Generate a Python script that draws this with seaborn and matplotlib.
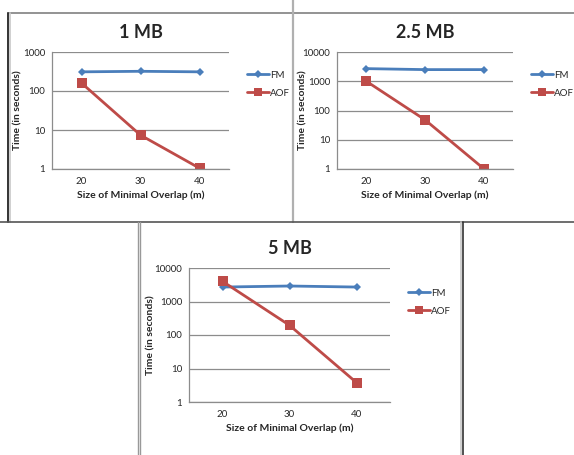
import pandas as pd
import matplotlib
matplotlib.use("Agg")
import matplotlib.pyplot as plt
import seaborn as sns
from matplotlib.lines import Line2D

overlap = [20, 30, 40]
titles = ["1 MB", "2.5 MB", "5 MB"]
fm_times = [[310, 320, 310], [2700, 2500, 2500], [2700, 2900, 2700]]
aof_times = [[160, 7.4, 1.05], [1000, 48, 1.03], [4000, 195, 3.8]]
y_ticks = [[1, 10, 100, 1000], [1, 10, 100, 1000, 10000], [1, 10, 100, 1000, 10000]]

rows = []
for i, t in enumerate(titles):
    for j, m in enumerate(overlap):
        rows.append({"panel": t, "m": m, "method": "FM", "time": fm_times[i][j]})
        rows.append({"panel": t, "m": m, "method": "AOF", "time": aof_times[i][j]})
df = pd.DataFrame(rows)

sns.set_style("white")
plt.rcParams["font.family"] = ["Lato", "DejaVu Sans"]

W, H = 574, 455
fig = plt.figure(figsize=(W / 100, H / 100), dpi=100)

# axes boxes in pixels: left, right, top, bottom
boxes = [(52, 229, 52, 169), (337, 513, 52, 169), (189, 390, 268, 402)]
legend_pos = [(242, 66), (526, 66), (403, 284)]
ylabel_x = [18, 303, 151]

palette = {"FM": "#4a7ebb", "AOF": "#be4b48"}

for i, t in enumerate(titles):
    l, r, tp, b = boxes[i]
    ax = fig.add_axes([l / W, 1 - b / H, (r - l) / W, (b - tp) / H])
    sub = df[df["panel"] == t]
    sns.lineplot(data=sub, x="m", y="time", hue="method", style="method",
                 palette=palette, markers={"FM": "D", "AOF": "s"}, dashes=False,
                 markersize=5, linewidth=2, ax=ax, markeredgewidth=0)
    for ln in ax.lines:
        if ln.get_marker() == "s":
            ln.set_markersize(6.5)
        else:
            ln.set_markersize(4.5)
    ax.set_yscale("log")
    ax.set_ylim(y_ticks[i][0], y_ticks[i][-1])
    ax.set_yticks(y_ticks[i])
    ax.set_yticklabels([str(v) for v in y_ticks[i]])
    ax.yaxis.set_minor_locator(matplotlib.ticker.NullLocator())
    ax.set_xlim(15, 45)
    ax.set_xticks(overlap)
    ax.set_xticks([15, 25, 35, 45], minor=True)
    ax.tick_params(axis="x", which="major", length=0, labelsize=7, pad=6)
    ax.tick_params(axis="x", which="minor", length=3, color="#888888", direction="out")
    ax.tick_params(axis="y", which="major", length=3, color="#888888", labelsize=7, pad=2)
    ax.grid(axis="y", color="#8c8c8c", linewidth=0.9)
    for s in ["top", "right"]:
        ax.spines[s].set_visible(False)
    for s in ["left", "bottom"]:
        ax.spines[s].set_color("#8c8c8c")
        ax.spines[s].set_linewidth(0.9)
    ax.set_xlabel("Size of Minimal Overlap (m)", fontsize=7.5, fontweight="bold", labelpad=3)
    ax.set_ylabel("")
    fig.text(ylabel_x[i] / W, 1 - ((tp + b) / 2) / H, "Time (in seconds)", rotation=90,
             ha="center", va="center", fontsize=7.5, fontweight="bold")
    ax.set_title(t, fontsize=13, fontweight="bold", pad=10)
    lx, ly = legend_pos[i]
    leg = ax.legend(loc="upper left", bbox_to_anchor=(lx / W, 1 - ly / H),
                    bbox_transform=fig.transFigure, frameon=False, fontsize=7,
                    handlelength=2.3, handletextpad=0.1, labelspacing=0.9, borderpad=0)
    for h in leg.legend_handles:
        h.set_markersize(4 if h.get_marker() == "D" else 5.5)

def hline(y, x0, x1, c, lw=1.2):
    fig.add_artist(Line2D([x0 / W, x1 / W], [1 - y / H, 1 - y / H], color=c, lw=lw))

def vline(x, y0, y1, c, lw=1.2):
    fig.add_artist(Line2D([x / W, x / W], [1 - y0 / H, 1 - y1 / H], color=c, lw=lw))

hline(13, 8, 574, "#808080")
vline(8, 13, 222, "#333333", 1.4)
vline(10, 13, 222, "#c8c8c8", 1.2)
vline(293, 0, 222, "#b0b0b0", 1.6)
hline(222, 0, 574, "#555555", 1.2)
vline(138, 222, 455, "#999999", 1.0)
vline(140, 222, 455, "#999999", 1.0)
vline(461, 222, 455, "#c8c8c8", 1.2)
vline(462.5, 222, 455, "#333333", 1.2)

fig.savefig("out.png", dpi=100)
